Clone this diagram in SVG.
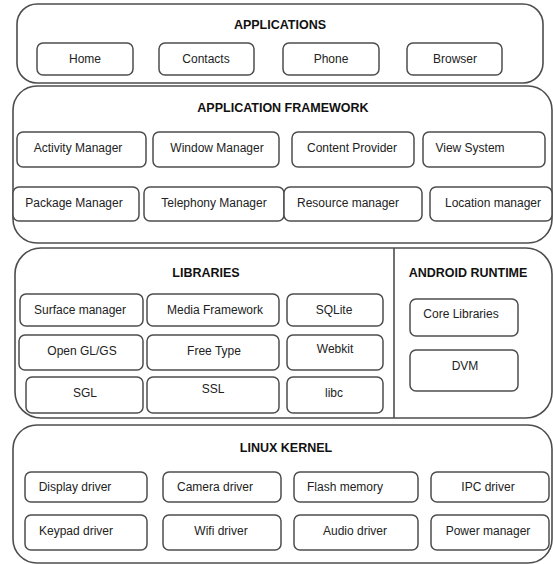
<svg xmlns="http://www.w3.org/2000/svg" width="553" height="564" viewBox="0 0 553 564">
<style>
.outer{fill:none;stroke:#4d4d4d;stroke-width:1.6}
.box{fill:#fff;stroke:#4d4d4d;stroke-width:1.5}
.t{font-family:"Liberation Sans",Arial,sans-serif;font-size:12px;fill:#222;text-anchor:middle}
.h{font-family:"Liberation Sans",Arial,sans-serif;font-size:12.5px;font-weight:bold;fill:#111;text-anchor:middle}
</style>
<rect width="553" height="564" fill="#fff"/>
<g id="applications">
<rect class="outer" x="17" y="4" width="526" height="79" rx="20"/>
<text class="h" x="280" y="29">APPLICATIONS</text>
</g>
<g id="home"><rect class="box" x="37" y="43" width="96" height="32" rx="6"/><text class="t" x="85" y="63">Home</text></g>
<g id="contacts"><rect class="box" x="159" y="43" width="95" height="32" rx="6"/><text class="t" x="206" y="63">Contacts</text></g>
<g id="phone"><rect class="box" x="283" y="43" width="96" height="32" rx="6"/><text class="t" x="331" y="63">Phone</text></g>
<g id="browser"><rect class="box" x="407" y="43" width="95" height="32" rx="6"/><text class="t" x="455" y="63">Browser</text></g>

<g id="framework">
<rect class="outer" x="13" y="86" width="539" height="157" rx="24"/>
<text class="h" x="283" y="112">APPLICATION FRAMEWORK</text>
</g>
<g id="activity"><rect class="box" x="17" y="132" width="129" height="35" rx="6"/><text class="t" x="78" y="152">Activity Manager</text></g>
<g id="window"><rect class="box" x="153" y="132" width="126" height="35" rx="6"/><text class="t" x="217" y="152">Window Manager</text></g>
<g id="content"><rect class="box" x="292" y="132" width="122" height="35" rx="6"/><text class="t" x="352" y="152">Content Provider</text></g>
<g id="view"><rect class="box" x="423" y="132" width="122" height="35" rx="6"/><text class="t" x="470" y="152">View System</text></g>
<g id="package"><rect class="box" x="13" y="187" width="126" height="34" rx="6"/><text class="t" x="74" y="207">Package Manager</text></g>
<g id="telephony"><rect class="box" x="144" y="187" width="140" height="34" rx="6"/><text class="t" x="214" y="207">Telephony Manager</text></g>
<g id="resource"><rect class="box" x="284" y="187" width="138" height="34" rx="6"/><text class="t" x="348" y="207">Resource manager</text></g>
<g id="location"><rect class="box" x="430" y="187" width="122" height="34" rx="6"/><text class="t" x="493" y="207">Location manager</text></g>

<g id="libraries">
<rect class="outer" x="15" y="248" width="537" height="170" rx="26"/>
<line class="outer" x1="394" y1="248" x2="394" y2="418"/>
<text class="h" x="206" y="277">LIBRARIES</text>
</g>
<g id="surface"><rect class="box" x="20" y="294" width="123" height="32" rx="6"/><text class="t" x="80" y="314">Surface manager</text></g>
<g id="media"><rect class="box" x="147" y="294" width="132" height="32" rx="6"/><text class="t" x="215" y="314">Media Framework</text></g>
<g id="sqlite"><rect class="box" x="287" y="294" width="96" height="32" rx="6"/><text class="t" x="334" y="314">SQLite</text></g>
<g id="opengl"><rect class="box" x="19" y="335" width="124" height="35" rx="6"/><text class="t" x="82" y="355">Open GL/GS</text></g>
<g id="freetype"><rect class="box" x="147" y="335" width="132" height="35" rx="6"/><text class="t" x="214" y="355">Free Type</text></g>
<g id="webkit"><rect class="box" x="287" y="335" width="96" height="35" rx="6"/><text class="t" x="335" y="353">Webkit</text></g>
<g id="sgl"><rect class="box" x="26" y="377" width="117" height="36" rx="6"/><text class="t" x="85" y="397">SGL</text></g>
<g id="ssl"><rect class="box" x="147" y="377" width="132" height="36" rx="6"/><text class="t" x="213" y="393">SSL</text></g>
<g id="libc"><rect class="box" x="287" y="377" width="96" height="36" rx="6"/><text class="t" x="334" y="397">libc</text></g>

<g id="runtime"><text class="h" x="468" y="277">ANDROID RUNTIME</text></g>
<g id="core"><rect class="box" x="410" y="299" width="108" height="37" rx="6"/><text class="t" x="461" y="318">Core Libraries</text></g>
<g id="dvm"><rect class="box" x="410" y="350" width="108" height="41" rx="6"/><text class="t" x="465" y="370">DVM</text></g>

<g id="kernel">
<rect class="outer" x="13" y="425" width="539" height="138" rx="24"/>
<text class="h" x="286" y="452">LINUX KERNEL</text>
</g>
<g id="display"><rect class="box" x="25" y="472" width="122" height="30" rx="6"/><text class="t" x="75" y="491">Display driver</text></g>
<g id="camera"><rect class="box" x="163" y="472" width="118" height="30" rx="6"/><text class="t" x="215" y="491">Camera driver</text></g>
<g id="flash"><rect class="box" x="294" y="472" width="124" height="30" rx="6"/><text class="t" x="345" y="491">Flash memory</text></g>
<g id="ipc"><rect class="box" x="431" y="472" width="118" height="30" rx="6"/><text class="t" x="488" y="491">IPC driver</text></g>
<g id="keypad"><rect class="box" x="25" y="515" width="122" height="35" rx="6"/><text class="t" x="76" y="535">Keypad driver</text></g>
<g id="wifi"><rect class="box" x="163" y="515" width="118" height="35" rx="6"/><text class="t" x="221" y="535">Wifi driver</text></g>
<g id="audio"><rect class="box" x="294" y="515" width="124" height="35" rx="6"/><text class="t" x="355" y="535">Audio driver</text></g>
<g id="power"><rect class="box" x="431" y="515" width="118" height="35" rx="6"/><text class="t" x="488" y="535">Power manager</text></g>
<g id="connectors"></g>
</svg>
